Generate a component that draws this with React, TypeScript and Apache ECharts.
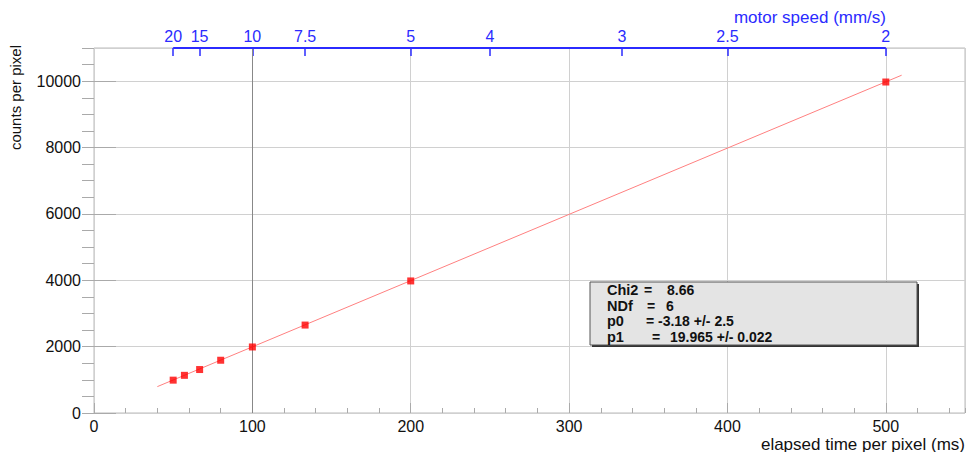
import React, { useEffect, useRef } from "react";
import * as echarts from "echarts";

const elapsedMs = [50, 57.1, 66.7, 80, 100, 133.3, 200, 500];
const countsPerPixel = [990, 1135, 1310, 1590, 1990, 2650, 3980, 9975];
const fitX = [40, 510];
const fitY = [795, 10180];
const speedTicks = [20, 15, 10, 7.5, 5, 4, 3, 2.5, 2];
const speedAxisX = [50, 500];
const statNames = ["Chi2", "NDf", "p0", "p1"];
const statValues = ["8.66", "6", "-3.18 +/- 2.5", "19.965 +/- 0.022"];
const statEqX = [644, 647, 646, 652];
const statValueX = [667, 666, 658, 670];

const FONT = "Liberation Sans, Arial, Helvetica, sans-serif";
const BLUE = "#2b2bff";

export default function App() {
  const ref = useRef<HTMLDivElement>(null);
  useEffect(() => {
    const chart = echarts.init(ref.current!, null, { renderer: "svg" });
    const speedPos = speedTicks.map((s) => 1000 / s);
    const statGraphics: any[] = [];
    const statFont = `bold 14px ${FONT}`;
    statNames.forEach((n, i) => {
      const y = 290 + i * 15.5;
      statGraphics.push({
        type: "text",
        x: 607,
        y,
        style: { text: n, font: `bold 14.5px ${FONT}`, fill: "#111", verticalAlign: "middle", align: "left" },
        z: 20,
      });
      statGraphics.push({
        type: "text",
        x: statEqX[i],
        y,
        style: { text: "=", font: statFont, fill: "#111", verticalAlign: "middle", align: "left" },
        z: 20,
      });
      statGraphics.push({
        type: "text",
        x: statValueX[i],
        y,
        style: { text: statValues[i], font: statFont, fill: "#111", verticalAlign: "middle", align: "left" },
        z: 20,
      });
    });
    chart.setOption({
      animation: false,
      backgroundColor: "#ffffff",
      grid: {
        left: 94,
        right: 4,
        top: 48,
        bottom: 39,
        show: true,
        borderColor: "#bbbbbb",
        borderWidth: 1,
        backgroundColor: "transparent",
      },
      xAxis: [
        {
          type: "value",
          min: 0,
          max: 550,
          interval: 100,
          position: "bottom",
          axisLine: { show: false },
          axisTick: { show: true, inside: true, length: 10, lineStyle: { color: "#aaaaaa" } },
          axisLabel: {
            show: true,
            showMaxLabel: false,
            color: "#111",
            fontSize: 16,
            fontFamily: FONT,
            margin: 5,
            formatter: (v: number) => (v % 100 === 0 ? String(v) : ""),
          },
          splitLine: { show: true, lineStyle: { color: "#d0d0d0", width: 1 } },
        },
        {
          type: "value",
          min: 0,
          max: 550,
          interval: 20,
          position: "bottom",
          axisLine: { show: false },
          axisTick: { show: true, inside: true, length: 5, lineStyle: { color: "#aaaaaa" } },
          axisLabel: { show: false },
          splitLine: { show: false },
        },
        {
          type: "value",
          min: 0,
          max: 550,
          position: "top",
          axisLine: { show: false },
          axisTick: {
            show: true,
            inside: true,
            length: 8,
            customValues: speedPos,
            lineStyle: { color: BLUE, width: 1.5 },
          },
          axisLabel: {
            show: true,
            customValues: speedPos,
            color: BLUE,
            fontSize: 16,
            fontFamily: FONT,
            margin: 4,
            formatter: (v: number) => String(+(1000 / v).toFixed(2)),
          },
          splitLine: { show: false },
        },
      ],
      yAxis: [
        {
          type: "value",
          min: 0,
          max: 11000,
          interval: 2000,
          axisLine: { show: false },
          axisTick: { show: true, inside: true, length: 22, lineStyle: { color: "#aaaaaa" } },
          axisLabel: {
            show: true,
            showMaxLabel: false,
            color: "#111",
            fontSize: 16,
            fontFamily: FONT,
            margin: 13,
            formatter: (v: number) => (v % 2000 === 0 ? String(v) : ""),
          },
          splitLine: { show: true, lineStyle: { color: "#d0d0d0", width: 1 } },
        },
        {
          type: "value",
          min: 0,
          max: 11000,
          interval: 500,
          axisLine: { show: false },
          axisTick: { show: true, inside: true, length: 12, lineStyle: { color: "#aaaaaa" } },
          axisLabel: { show: false },
          splitLine: { show: false },
        },
      ],
      series: [
        {
          type: "line",
          name: "fit",
          xAxisIndex: 0,
          yAxisIndex: 0,
          data: fitX.map((x, i) => [x, fitY[i]]),
          symbol: "none",
          lineStyle: { color: "#ff8080", width: 1 },
          z: 3,
          silent: true,
          markLine: {
            silent: true,
            symbol: ["none", "none"],
            label: { show: false },
            lineStyle: { color: "#888888", width: 1, type: "solid" },
            data: [{ xAxis: 100 }],
            z: 1,
          },
        },
        {
          type: "scatter",
          name: "data",
          xAxisIndex: 0,
          yAxisIndex: 0,
          data: elapsedMs.map((x, i) => [x, countsPerPixel[i]]),
          symbol: "rect",
          symbolSize: 7,
          itemStyle: { color: "#ff0000" },
          z: 5,
        },
        {
          type: "line",
          name: "speed axis",
          xAxisIndex: 2,
          yAxisIndex: 0,
          data: speedAxisX.map((x) => [x, 11000]),
          symbol: "none",
          clip: false,
          lineStyle: { color: BLUE, width: 2 },
          z: 6,
          silent: true,
        },
      ],
      graphic: [
        {
          type: "text",
          x: 886,
          y: 17,
          style: { text: "motor speed (mm/s)", font: `17px ${FONT}`, fill: BLUE, align: "right", verticalAlign: "middle" },
        },
        {
          type: "text",
          x: 965,
          y: 444,
          style: { text: "elapsed time per pixel (ms)", font: `17px ${FONT}`, fill: "#111", align: "right", verticalAlign: "middle" },
        },
        {
          type: "text",
          x: 15,
          y: 45,
          rotation: Math.PI / 2,
          style: { text: "counts per pixel", font: `15px ${FONT}`, fill: "#111", align: "right", verticalAlign: "middle" },
        },
        {
          type: "rect",
          shape: { x: 592, y: 284, width: 327, height: 63 },
          style: { fill: "#333333" },
          z: 10,
        },
        {
          type: "rect",
          shape: { x: 590, y: 282, width: 327, height: 63 },
          style: { fill: "#e4e4e4", stroke: "#555555", lineWidth: 1 },
          z: 11,
        },
        ...statGraphics,
      ],
    });
    return () => chart.dispose();
  }, []);
  return (
    <div
      ref={ref}
      style={{ position: "absolute", left: 0, top: 0, width: 969, height: 452 }}
    />
  );
}
